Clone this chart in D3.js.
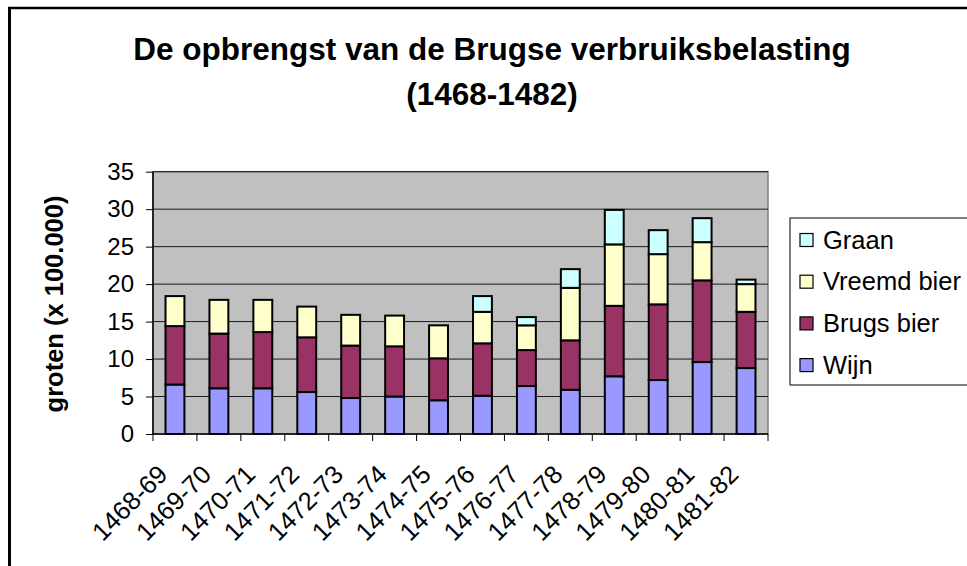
<!DOCTYPE html>
<html>
<head>
<meta charset="utf-8">
<script src="https://cdn.jsdelivr.net/npm/d3@7"></script>
<style>
  html, body { margin: 0; padding: 0; background: #fff; }
  svg { display: block; font-family: Arial, "Liberation Sans", sans-serif; }
</style>
</head>
<body>
<svg id="chart" width="967" height="566"></svg>
<script>
const categories = ["1468-69","1469-70","1470-71","1471-72","1472-73","1473-74","1474-75","1475-76","1476-77","1477-78","1478-79","1479-80","1480-81","1481-82"];
const wijn   = [6.6, 6.1, 6.1, 5.6, 4.8, 5.0, 4.5, 5.1, 6.4, 5.9, 7.7, 7.2, 9.6, 8.8];
const brugs  = [7.8, 7.3, 7.5, 7.3, 7.0, 6.7, 5.6, 7.0, 4.8, 6.6, 9.4, 10.1, 10.9, 7.5];
const vreemd = [4.0, 4.5, 4.3, 4.1, 4.1, 4.1, 4.4, 4.2, 3.3, 7.0, 8.2, 6.7, 5.1, 3.7];
const graan  = [0, 0, 0, 0, 0, 0, 0, 2.1, 1.1, 2.5, 4.6, 3.2, 3.2, 0.6];
const seriesNames = ["Wijn", "Brugs bier", "Vreemd bier", "Graan"];
const seriesColors = ["#9999FF", "#993366", "#FFFFCC", "#CCFFFF"];
const yTicks = [0, 5, 10, 15, 20, 25, 30, 35];
const titleLines = ["De opbrengst van de Brugse verbruiksbelasting", "(1468-1482)"];
const yTitle = "groten (x 100.000)";

(function () {
const svg = d3.select("#chart");

// outer frame
svg.append("line").attr("x1", 9.5).attr("x2", 9.5).attr("y1", 7).attr("y2", 566)
  .attr("stroke", "#000").attr("stroke-width", 3);
svg.append("line").attr("x1", 8).attr("x2", 967).attr("y1", 8).attr("y2", 8)
  .attr("stroke", "#000").attr("stroke-width", 2.5);

const pL = 153, pR = 768, pT = 171.7, pB = 434;

const x = d3.scaleBand().domain(categories).range([pL, pR]).paddingInner(0.57).paddingOuter(0.285);
const y = d3.scaleLinear().domain([0, 35]).range([pB, pT]);

// plot background
svg.append("rect").attr("x", pL).attr("y", pT).attr("width", pR - pL).attr("height", pB - pT)
  .attr("fill", "#C0C0C0").attr("stroke", "#808080").attr("stroke-width", 1.5);

// gridlines
svg.append("g").selectAll("line").data(yTicks.filter(d => d > 0)).join("line")
  .attr("x1", pL).attr("x2", pR)
  .attr("y1", d => y(d)).attr("y2", d => y(d))
  .attr("stroke", "#1a1a1a").attr("stroke-width", 1);

// stacked bars
const rows = categories.map((c, i) => ({ cat: c, Wijn: wijn[i], "Brugs bier": brugs[i], "Vreemd bier": vreemd[i], Graan: graan[i] }));
const stack = d3.stack().keys(seriesNames)(rows);
const color = d3.scaleOrdinal().domain(seriesNames).range(seriesColors);

svg.append("g").selectAll("g").data(stack).join("g")
  .attr("fill", d => color(d.key))
  .selectAll("rect").data(d => d.filter(s => s[1] - s[0] > 0)).join("rect")
  .attr("x", d => x(d.data.cat))
  .attr("width", x.bandwidth())
  .attr("y", d => y(d[1]))
  .attr("height", d => y(d[0]) - y(d[1]))
  .attr("stroke", "#000").attr("stroke-width", 2);

// y axis
const yAxis = d3.axisLeft(y).tickValues(yTicks).tickSize(7).tickPadding(12).tickFormat(d3.format("d"));
const yg = svg.append("g").attr("transform", `translate(${pL},0)`).call(yAxis);
yg.select(".domain").attr("stroke", "#000").attr("stroke-width", 1.5).attr("d", `M0,${pB}V${pT}`);
yg.selectAll(".tick line").attr("stroke", "#000").attr("stroke-width", 1);
yg.selectAll("text").attr("font-size", 24).attr("fill", "#000").attr("font-family", "Arial, 'Liberation Sans', sans-serif");

// x axis
const xAxis = d3.axisBottom(x).tickSize(0).tickFormat("");
const xg = svg.append("g").attr("transform", `translate(0,${pB})`).call(xAxis);
xg.select(".domain").attr("stroke", "#000").attr("stroke-width", 1.5).attr("d", `M${pL},0H${pR}`);
const boundaries = categories.map(c => x(c) - (x.step() - x.bandwidth()) / 2).concat([pR]);
xg.selectAll(".bnd").data(boundaries).join("line").attr("class", "bnd")
  .attr("x1", d => d).attr("x2", d => d).attr("y1", 0).attr("y2", 7)
  .attr("stroke", "#000").attr("stroke-width", 1);

// x labels
svg.append("g").selectAll("text").data(categories).join("text")
  .attr("transform", d => `translate(${x(d) + x.bandwidth() / 2 - 6},${pB + 42}) rotate(-45)`)
  .attr("text-anchor", "end")
  .attr("font-size", 25.5)
  .attr("fill", "#000")
  .text(d => d);

// y title
svg.append("text")
  .attr("transform", `translate(63,304) rotate(-90)`)
  .attr("text-anchor", "middle")
  .attr("font-size", 25.5).attr("font-weight", "bold")
  .text(yTitle);

// title
svg.append("g").selectAll("text").data(titleLines).join("text")
  .attr("x", 492).attr("y", (d, i) => 60 + i * 45)
  .attr("text-anchor", "middle")
  .attr("font-size", 31.5).attr("font-weight", "bold")
  .text(d => d);

// legend
const lg = svg.append("g");
lg.append("rect").attr("x", 790).attr("y", 218).attr("width", 190).attr("height", 167)
  .attr("fill", "#fff").attr("stroke", "#000").attr("stroke-width", 1);
const legendOrder = seriesNames.slice().reverse();
const items = lg.selectAll("g").data(legendOrder).join("g")
  .attr("transform", (d, i) => `translate(0,${240 + i * 41.7})`);
items.append("rect").attr("x", 800).attr("y", -6.5).attr("width", 13).attr("height", 13)
  .attr("fill", d => color(d)).attr("stroke", "#000").attr("stroke-width", 1.2);
items.append("text").attr("x", 823).attr("y", 8.5).attr("font-size", 25.5).attr("fill", "#000").text(d => d);
})();
</script>
</body>
</html>
